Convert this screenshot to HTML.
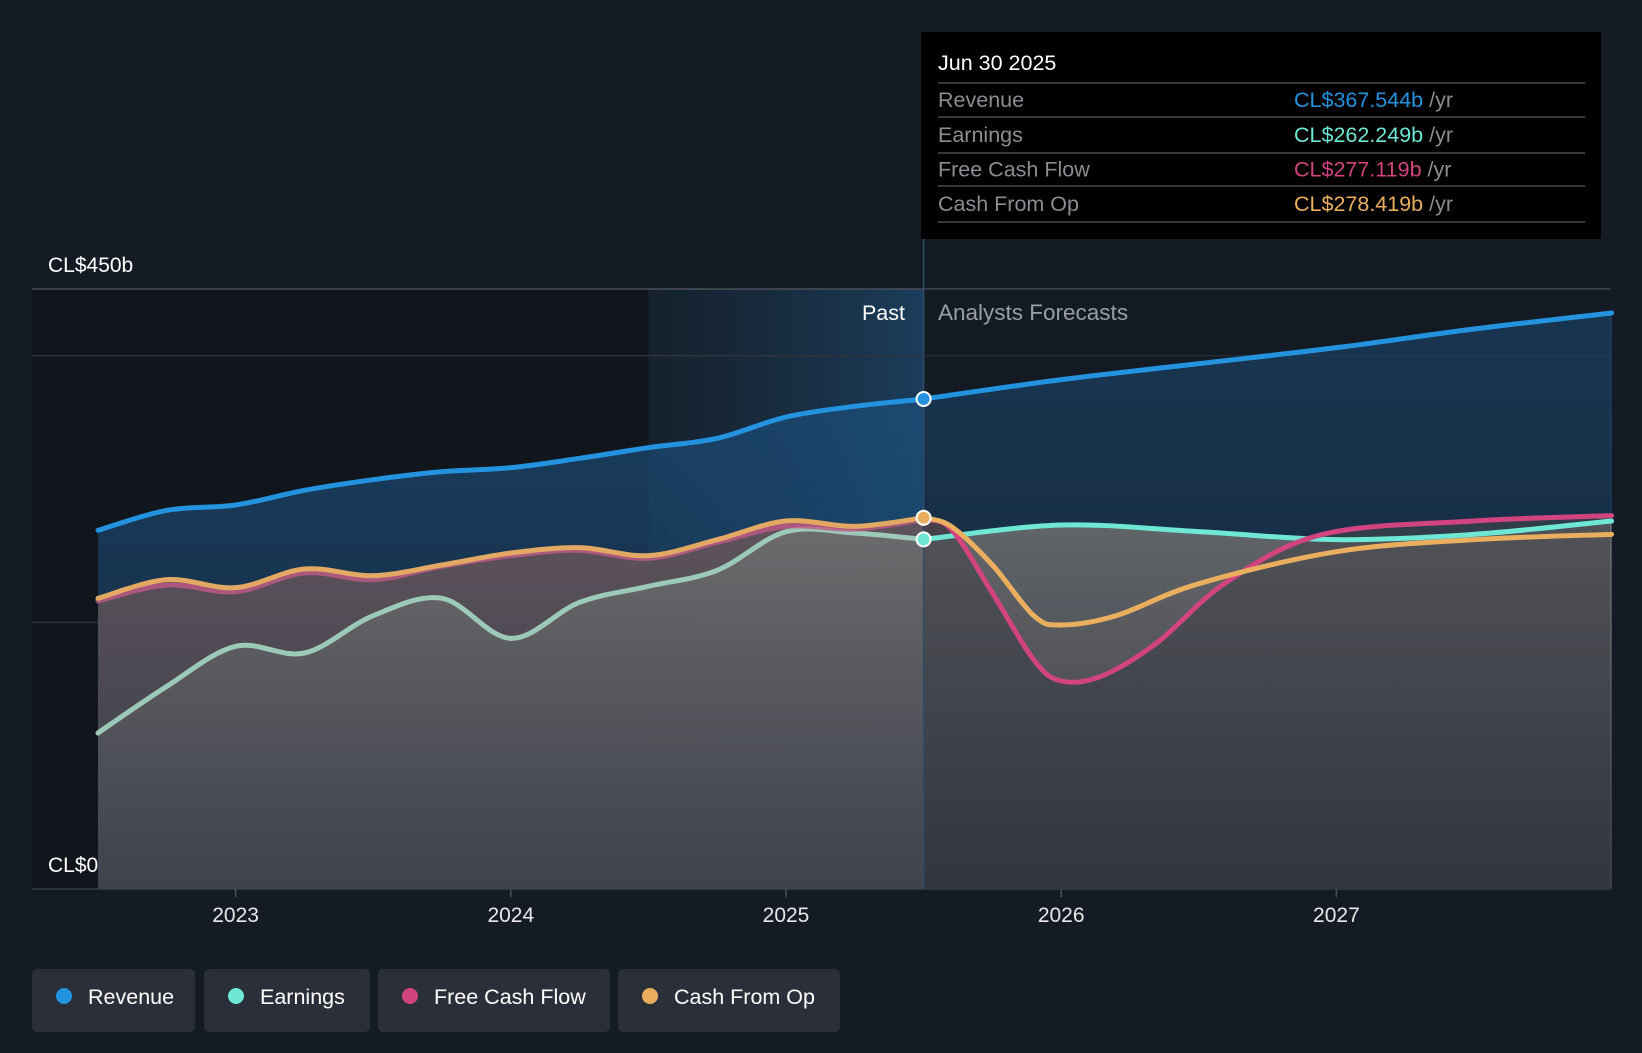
<!DOCTYPE html>
<html><head><meta charset="utf-8"><style>
html,body{margin:0;padding:0;background:#151b24;}
body{width:1642px;height:1048px;overflow:hidden;font-family:"Liberation Sans",sans-serif;}
svg text{font-family:"Liberation Sans",sans-serif;}
</style></head><body>
<svg id="chart" width="1642" height="1048" xmlns="http://www.w3.org/2000/svg">
<defs>
<linearGradient id="gHi" x1="0" x2="1" y1="0" y2="0"><stop offset="0" stop-color="#1a3a55" stop-opacity="0.2"/><stop offset="1" stop-color="#1f5a8a" stop-opacity="0.55"/></linearGradient>
<linearGradient id="gRev" x1="0" x2="0" y1="0" y2="1"><stop offset="0" stop-color="#1c4e7a" stop-opacity="0.75"/><stop offset="1" stop-color="#1c4e7a" stop-opacity="0.35"/></linearGradient>
<linearGradient id="gCash" x1="0" x2="0" y1="0" y2="1"><stop offset="0" stop-color="#7a4a55" stop-opacity="0.8"/><stop offset="1" stop-color="#5a4a55" stop-opacity="0.4"/></linearGradient>
<linearGradient id="gEarn" x1="0" x2="0" y1="0" y2="1"><stop offset="0" stop-color="#8e8e8c" stop-opacity="0.9"/><stop offset="1" stop-color="#4a4e55" stop-opacity="0.9"/></linearGradient>
<linearGradient id="gFc" x1="0" x2="0" y1="0" y2="1"><stop offset="0" stop-color="#5a5a5e" stop-opacity="0.6"/><stop offset="1" stop-color="#3a3e48" stop-opacity="0.7"/></linearGradient>
</defs>
<g id="plot"></g>
</svg>
<script>
const years=[2022.5,2022.75,2023,2023.25,2023.5,2023.75,2024,2024.25,2024.5,2024.75,2025,2025.25,2025.5];
const revenuePast=[269,284,288,299,307,313,316,323,331,338,354,362,367.5];
const earningsPast=[117,152,182,177,205,218,188,215,227,239,268,267,262.2];
const fcfPast=[216,228,223,237,232,242,250,254,248,260,272,270,277.1];
const cfoPast=[218,232,226,240,235,243,252,256,250,262,276,272,278.4];
const fYears=[2025.5,2026,2026.5,2027,2027.5,2028];
const revenueF=[367.5,382,394,406,420,432];
const earningsF=[262.2,273,268,262,266,276];
const fcfYears=[2025.5,2025.6,2025.75,2025.9,2026,2026.15,2026.35,2026.6,2026.95,2027.5,2028];
const fcfF=[277.1,270,222,172,156,160,185,230,266,276,280];
const cfoYears=[2025.5,2025.6,2025.75,2025.9,2026,2026.2,2026.5,2027,2027.5,2028];
const cfoF=[278.4,272,243,205,198,205,229,253,262,266];
const xTicks=[2023,2024,2025,2026,2027];
const yTickVals=[0,200,400,450];

const X=y=>235.6+(y-2023)*275.2;
const Y=v=>889-v*(600/450);
const NS='http://www.w3.org/2000/svg';
const svg=document.getElementById('plot');
function el(t,a,p){const e=document.createElementNS(NS,t);for(const k in a)e.setAttribute(k,a[k]);(p||svg).appendChild(e);return e;}
function pathD(xs,vs){const p=xs.map((x,i)=>[X(x),Y(vs[i])]);let d='M'+p[0][0]+','+p[0][1];
 for(let i=0;i<p.length-1;i++){const p0=p[i-1]||p[i],p1=p[i],p2=p[i+1],p3=p[i+2]||p2;
 const c1=[p1[0]+(p2[0]-p0[0])/6,p1[1]+(p2[1]-p0[1])/6],c2=[p2[0]-(p3[0]-p1[0])/6,p2[1]-(p3[1]-p1[1])/6];
 d+=`C${c1[0]},${c1[1]} ${c2[0]},${c2[1]} ${p2[0]},${p2[1]}`;}return d;}
function area(xs,vs){return pathD(xs,vs)+`L${X(xs[xs.length-1])},${Y(0)}L${X(xs[0])},${Y(0)}Z`;}

let r=el('rect',{x:32,y:Y(450),width:X(2024.5)-32,height:Y(0)-Y(450),fill:'#11151c'});

r=el('rect',{x:X(2024.5),y:Y(450),width:X(2025.5)-X(2024.5),height:Y(0)-Y(450),fill:'url(#gHi)'});

yTickVals.forEach(v=>{const g=el('line',{x1:32,x2:1610,y1:Y(v),y2:Y(v),stroke:v==450?'#4a505a':'#2e343e','stroke-width':v==0?2:1.5});
});

const allX=years.concat(fYears.slice(1));
const revAll=revenuePast.concat(revenueF.slice(1));
let a=el('path',{d:area(allX,revAll),fill:'url(#gRev)'});
const cfoX=years.concat(cfoYears.slice(1)),cfoAll=cfoPast.concat(cfoF.slice(1));
const fcfX=years.concat(fcfYears.slice(1)),fcfAll=fcfPast.concat(fcfF.slice(1));
a=el('path',{d:area(cfoX,cfoAll),fill:'url(#gCash)'});
const eX=years.concat(fYears.slice(1)),eAll=earningsPast.concat(earningsF.slice(1));
a=el('path',{d:area(eX,eAll),fill:'url(#gEarn)'});
a=el('path',{d:area(fcfX,fcfAll),fill:'url(#gFc)'});
r=el('rect',{x:X(2025.5),y:Y(450),width:1610-X(2025.5),height:Y(0)-Y(450),fill:'#151b24',opacity:0.3});

function line(xs,vs,c,name,op){const l=el('path',{d:pathD(xs,vs),fill:'none',stroke:c,'stroke-width':5,'stroke-linecap':'round',opacity:op||1});
}
line(years,earningsPast,'#9cc9b8','earnings-line-past');
line(fYears,earningsF,'#6ee7d4','earnings-line-forecast');
line(years,fcfPast,'#c05a88','fcf-line-past',0.8);
line(fcfYears,fcfF,'#d1447f','fcf-line-forecast');
line(years,cfoPast,'#e3a863','cfo-line-past');
line(cfoYears,cfoF,'#eaaf5e','cfo-line-forecast');
line(years,revenuePast,'#2393e0','revenue-line-past');
line(fYears,revenueF,'#2393e0','revenue-line-forecast');
let dv=el('line',{x1:X(2025.5),x2:X(2025.5),y1:239,y2:Y(0),stroke:'#2d4d66','stroke-width':1.5});

[[revenuePast,'#2393e0','revenue-marker'],[earningsPast,'#6ee7d4','earnings-marker'],[cfoPast,'#eaaf5e','cfo-marker']].forEach(([s,c,n])=>{
const m=el('circle',{cx:X(2025.5),cy:Y(s[s.length-1]),r:7,fill:c,stroke:'#fff','stroke-width':2});
});
xTicks.forEach(t=>{const tk=el('line',{x1:X(t),x2:X(t),y1:Y(0),y2:Y(0)+8,stroke:'#4a505a','stroke-width':1.5});

const tx=el('text',{x:X(t),y:922,fill:'#e8e8e8','font-size':21,'text-anchor':'middle'});tx.textContent=t;
});
function txt(x,y,s,c,sz,anc,name){const t=el('text',{x:x,y:y,fill:c,'font-size':sz,'text-anchor':anc||'start'});t.textContent=s;
return t;}
txt(48,272,'CL$450b','#ffffff',21,'start','y-label-top');
txt(48,872,'CL$0','#ffffff',21,'start','y-label-bottom');
txt(905,320,'Past','#ffffff',21.5,'end','past-label');
txt(938,320,'Analysts Forecasts','#9a9ea6',22.5,'start','forecast-label');
const tip=el('g',{});
el('rect',{x:921,y:32,width:680,height:207,fill:'#000'},tip);
const d=el('text',{x:938,y:70,fill:'#fff','font-size':21.5},tip);d.textContent='Jun 30 2025';
const rows=[['Revenue','CL$367.544b','#2393e0'],['Earnings','CL$262.249b','#6ee7d4'],['Free Cash Flow','CL$277.119b','#d1447f'],['Cash From Op','CL$278.419b','#eaaf5e']];
const lineYs=[83,117,153,186,222];
lineYs.forEach(y=>{const l=el('line',{x1:938,x2:1585,y1:y,y2:y,stroke:'#3a3a3a','stroke-width':2},tip);});
rows.forEach((rw,i)=>{const y=(lineYs[i]+lineYs[i+1])/2+7;
const a=el('text',{x:938,y:y,fill:'#8a8d92','font-size':21.5},tip);a.textContent=rw[0];
const b=el('text',{x:1294,y:y,'font-size':21.5,fill:rw[2]},tip);b.textContent=rw[1];
const u=el('tspan',{fill:'#8a8d92'},b);u.textContent=' /yr';});
const leg=[['Revenue','#2393e0',32,163],['Earnings','#6ee7d4',204,166],['Free Cash Flow','#d1447f',378,232],['Cash From Op','#eaaf5e',618,222]];
leg.forEach(([n,c,x,w])=>{const g=el('g',{});
el('rect',{x:x,y:969,width:w,height:63,rx:5,fill:'#2a2f39'},g);
el('circle',{cx:x+32,cy:996,r:8,fill:c},g);
const t=el('text',{x:x+56,y:1004,fill:'#fff','font-size':21.5},g);t.textContent=n;});
</script>
</body></html>
